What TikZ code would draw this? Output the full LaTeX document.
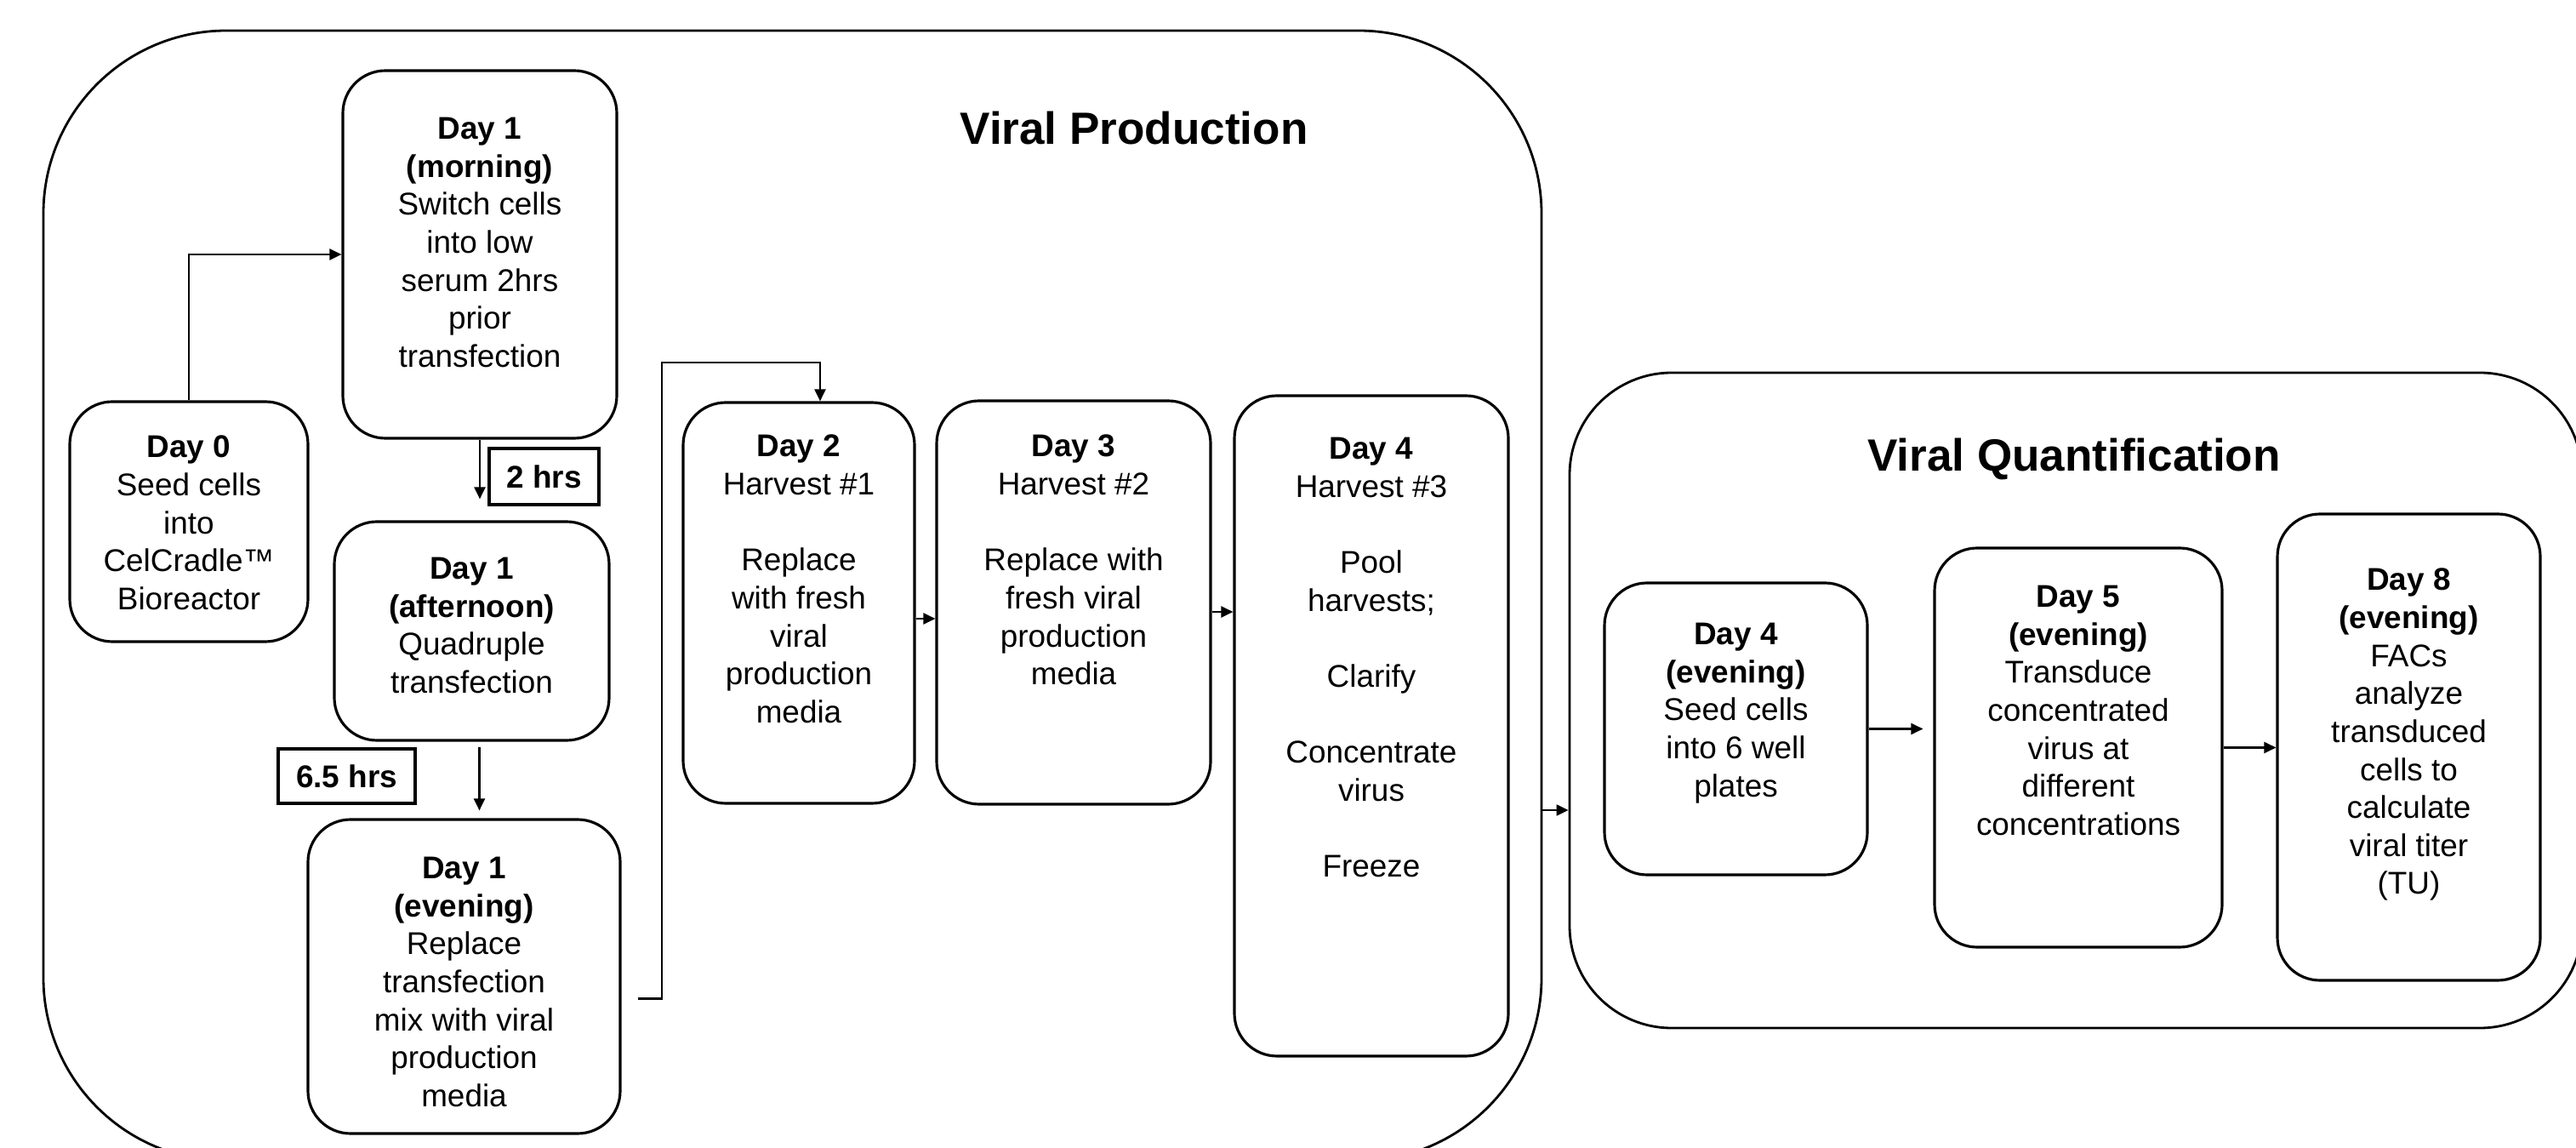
\documentclass[tikz,border=0pt]{standalone}
\usepackage{fontspec}
\setmainfont{Liberation Sans}
\usetikzlibrary{positioning,arrows.meta}

\begin{document}
\begin{tikzpicture}[
  groupbox/.style={draw, line width=0.8pt, rounded corners=2.15cm},
  stepbox/.style={draw, line width=0.9pt, rounded corners=0.5cm},
  steptext/.style={align=center, inner sep=0pt, font=\fontsize{10.5}{12.7}\selectfont},
  timebox/.style={draw, line width=0.9pt, inner sep=0pt, font=\fontsize{10.5}{12.7}\selectfont\bfseries},
  grouptitle/.style={inner sep=0pt, font=\fontsize{15.1}{18}\selectfont\bfseries},
  arrow/.style={line width=0.6pt, -{Triangle[length=0.14cm,width=0.13cm]}}
]
\clip (0,0) rectangle (30.28,-13.49);

% groups
\node[groupbox, minimum width=17.61cm, minimum height=13.28cm] (prod) at (9.315,-7.00) {};
\node[groupbox, rounded corners=1.2cm, minimum width=11.90cm, minimum height=7.70cm] (quant) at (24.40,-8.23) {};
\node[grouptitle] (prodtitle) at (13.33,-1.51) {Viral Production};
\node[grouptitle] (quanttitle) at (24.38,-5.40) {Viral Quantification};

% viral production steps
\node[stepbox, minimum width=2.80cm, minimum height=2.82cm] (dayzero) at (2.22,-6.13) {};
\node[steptext, below=0.41cm of dayzero.north] (dayzerotext) {\textbf{Day 0}\\Seed cells\\into\\CelCradle™\\Bioreactor};

\node[stepbox, minimum width=3.22cm, minimum height=4.32cm] (dayonem) at (5.64,-2.99) {};
\node[steptext, below=0.56cm of dayonem.north] (dayonemtext) {\textbf{Day 1}\\\textbf{(morning)}\\Switch cells\\into low\\serum 2hrs\\prior\\transfection};

\node[stepbox, minimum width=3.23cm, minimum height=2.57cm] (dayonea) at (5.545,-7.415) {};
\node[steptext, below=0.43cm of dayonea.north] (dayoneatext) {\textbf{Day 1}\\\textbf{(afternoon)}\\Quadruple\\transfection};

\node[stepbox, minimum width=3.67cm, minimum height=3.69cm] (dayonee) at (5.455,-11.475) {};
\node[steptext, below=0.45cm of dayonee.north] (dayoneetext) {\textbf{Day 1}\\\textbf{(evening)}\\Replace\\transfection\\mix with viral\\production\\media};

\node[stepbox, minimum width=2.72cm, minimum height=4.71cm] (daytwo) at (9.39,-7.085) {};
\node[steptext, below=0.39cm of daytwo.north] (daytwotext) {\textbf{Day 2}\\Harvest \#1\\[12.7pt]Replace\\with fresh\\viral\\production\\media};

\node[stepbox, minimum width=3.22cm, minimum height=4.74cm] (daythree) at (12.62,-7.08) {};
\node[steptext, below=0.41cm of daythree.north] (daythreetext) {\textbf{Day 3}\\Harvest \#2\\[12.7pt]Replace with\\fresh viral\\production\\media};

\node[stepbox, minimum width=3.22cm, minimum height=7.76cm] (dayfour) at (16.12,-8.53) {};
\node[steptext, below=0.50cm of dayfour.north] (dayfourtext) {\textbf{Day 4}\\Harvest \#3\\[12.7pt]Pool\\harvests;\\[12.7pt]Clarify\\[12.7pt]Concentrate\\virus\\[12.7pt]Freeze};

% time labels
\node[timebox, minimum width=1.29cm, minimum height=0.66cm] (twohrs) at (6.395,-5.60) {2 hrs};
\node[timebox, minimum width=1.61cm, minimum height=0.64cm] (sixhrs) at (4.075,-9.12) {6.5 hrs};

% viral quantification steps
\node[stepbox, minimum width=3.09cm, minimum height=3.43cm] (qfour) at (20.405,-8.565) {};
\node[steptext, below=0.48cm of qfour.north] (qfourtext) {\textbf{Day 4}\\\textbf{(evening)}\\Seed cells\\into 6 well\\plates};

\node[stepbox, minimum width=3.38cm, minimum height=4.69cm] (qfive) at (24.43,-8.785) {};
\node[steptext, below=0.45cm of qfive.north] (qfivetext) {\textbf{Day 5}\\\textbf{(evening)}\\Transduce\\concentrated\\virus at\\different\\concentrations};

\node[stepbox, minimum width=3.09cm, minimum height=5.48cm] (qeight) at (28.315,-8.78) {};
\node[steptext, below=0.65cm of qeight.north] (qeighttext) {\textbf{Day 8}\\\textbf{(evening)}\\FACs\\analyze\\transduced\\cells to\\calculate\\viral titer\\(TU)};

% connectors
\draw[arrow] (dayzero.north) |- (dayonem.west);
\draw[arrow, shorten >=0.25cm] (dayonem.south) -- (dayonem.south |- dayonea.north);
\coordinate (downtwo) at ([xshift=0.09cm]dayonea.south);
\draw[arrow, shorten <=0.06cm, shorten >=0.09cm] (downtwo) -- (downtwo |- dayonee.north);
\coordinate (outone) at ([xshift=0.19cm,yshift=-0.26cm]dayonee.east);
\coordinate (intwo) at ([xshift=0.25cm]daytwo.north);
\draw[arrow] (outone) -- ++(0.28,0) |- ([yshift=0.45cm]intwo) -- (intwo);
\coordinate (outtwo) at ([yshift=-0.185cm]daytwo.east);
\draw[arrow] (outtwo) -- (outtwo -| daythree.west);
\coordinate (outthree) at ([yshift=-0.11cm]daythree.east);
\draw[arrow] (outthree) -- (outthree -| dayfour.west);
\coordinate (outprod) at ([yshift=-2.52cm]prod.east);
\draw[arrow] (outprod) -- (outprod -| quant.west);
\draw[arrow, shorten >=0.12cm] (qfour.east) -- (qfour.east -| qfive.west);
\draw[arrow] (qfive.east) -- (qfive.east -| qeight.west);

\end{tikzpicture}
\end{document}
